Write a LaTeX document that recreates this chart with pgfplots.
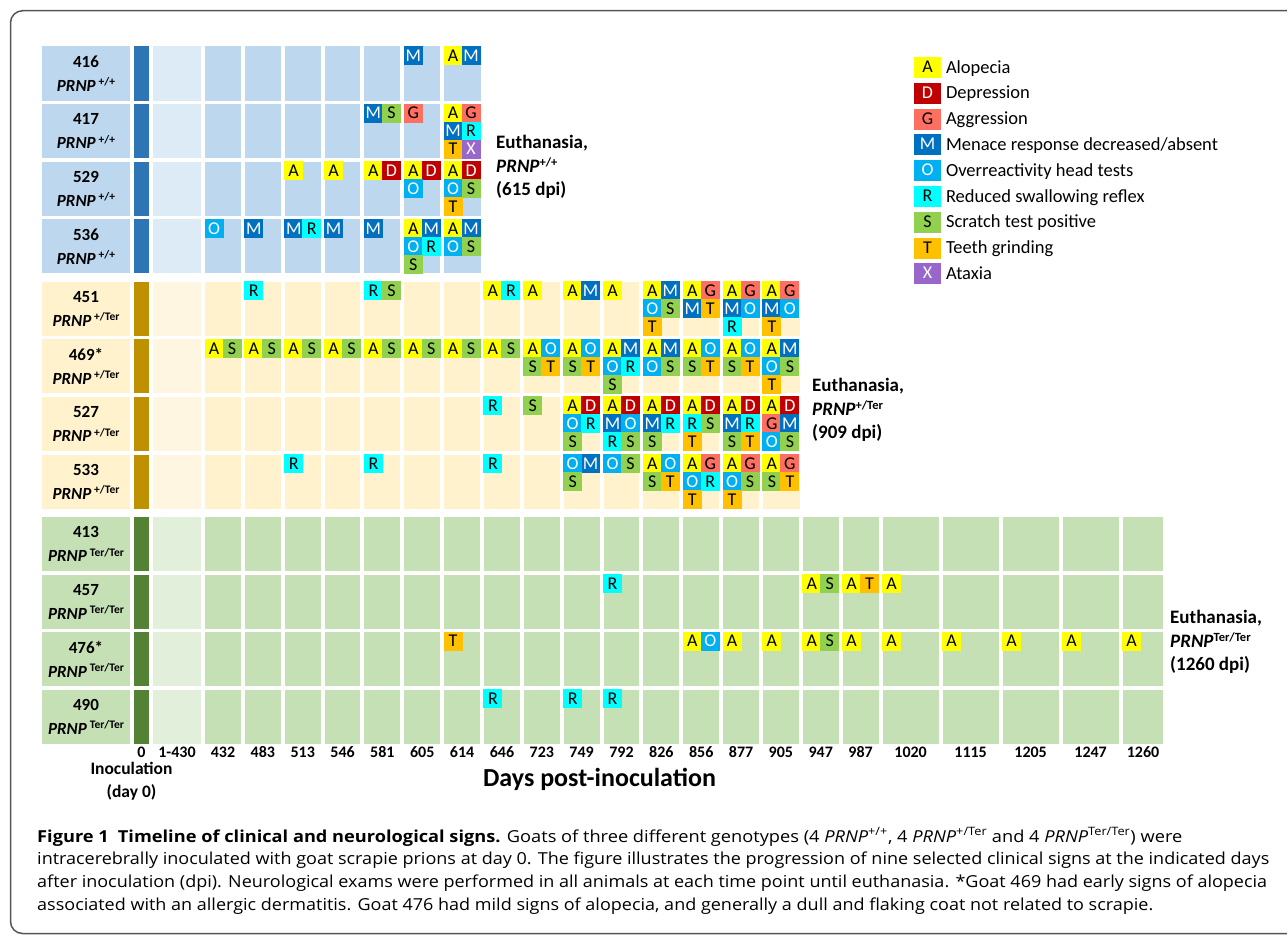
\documentclass[border=0pt]{standalone}
\usepackage{pgfplots}
\usepackage{pgfplotstable}
\usepackage{graphicx}
\pgfplotsset{compat=1.18}
\usepackage{fontspec}
\setmainfont{Carlito}
\newfontfamily\capfont{Open Sans}
\definecolor{cA}{RGB}{255,255,0}
\definecolor{cD}{RGB}{192,0,0}
\definecolor{cG}{RGB}{255,111,97}
\definecolor{cM}{RGB}{0,112,192}
\definecolor{cO}{RGB}{0,176,240}
\definecolor{cR}{RGB}{0,255,255}
\definecolor{cS}{RGB}{146,208,80}
\definecolor{cT}{RGB}{255,192,0}
\definecolor{cX}{RGB}{153,102,204}
\definecolor{gA}{RGB}{189,215,238}
\definecolor{gAl}{RGB}{221,235,247}
\definecolor{gAb}{RGB}{46,117,182}
\definecolor{gB}{RGB}{255,242,204}
\definecolor{gBl}{RGB}{255,246,226}
\definecolor{gBb}{RGB}{191,144,0}
\definecolor{gC}{RGB}{197,224,180}
\definecolor{gCl}{RGB}{226,239,218}
\definecolor{gCb}{RGB}{84,130,53}
\definecolor{framec}{RGB}{85,85,85}
\newcommand\lfont{\fontsize{18}{18}\selectfont}
\newcommand\gt[1]{\textit{PRNP}\,\raisebox{5.5pt}{\fontsize{11.5}{11.5}\selectfont #1}}
\newcommand\gte[1]{\textit{PRNP}\raisebox{6pt}{\fontsize{12.5}{12.5}\selectfont #1}}
\newcommand\capline[2]{\resizebox{#1}{\height}{#2}}
\pgfplotsset{
  sig/.style n args={3}{
    only marks, mark=square*, mark size=9pt, draw=#1, fill=#1,
    mark options={draw=#1, fill=#1, line width=0pt},
    nodes near coords={#2},
    nodes near coords align={center},
    every node near coord/.append style={anchor=center, inner sep=0pt, text=#3, font=\lfont},
    legend image code/.code={
      \node[draw=none, fill=#1, minimum width=27pt, minimum height=21pt, inner sep=0pt, text=#3, font=\lfont, anchor=west] at (0pt,0pt) {#2};
      \path[draw=none, fill=none] (0pt,0pt) -- (32pt,0pt);
    },
  },
  bg/.style={draw=none, forget plot},
  gap/.style={white, line width=#1, forget plot, unbounded coords=jump, mark=none},
}
% signs: c = time-point column index (0 = day 0, 1 = 1-430, 2 = 432, ..., 23 = 1260)
%        r = goat row index (0..11), s = sub-column, t = sub-row within the cell
\pgfplotstableread{
c r s t
8 0 0 0
8 1 0 0
4 2 0 0
5 2 0 0
6 2 0 0
7 2 0 0
8 2 0 0
7 3 0 0
8 3 0 0
9 4 0 0
10 4 0 0
11 4 0 0
12 4 0 0
13 4 0 0
14 4 0 0
15 4 0 0
16 4 0 0
2 5 0 0
3 5 0 0
4 5 0 0
5 5 0 0
6 5 0 0
7 5 0 0
8 5 0 0
9 5 0 0
10 5 0 0
11 5 0 0
12 5 0 0
13 5 0 0
14 5 0 0
15 5 0 0
16 5 0 0
11 6 0 0
12 6 0 0
13 6 0 0
14 6 0 0
15 6 0 0
16 6 0 0
13 7 0 0
14 7 0 0
15 7 0 0
16 7 0 0
17 9 0 0
18 9 0 0
19 9 0 0
14 10 0 0
15 10 0 0
16 10 0 0
17 10 0 0
18 10 0 0
19 10 0 0
20 10 0 0
21 10 0 0
22 10 0 0
23 10 0 0
}\tabA
\pgfplotstableread{
c r s t
6 2 1 0
7 2 1 0
8 2 1 0
11 6 1 0
12 6 1 0
13 6 1 0
14 6 1 0
15 6 1 0
16 6 1 0
}\tabD
\pgfplotstableread{
c r s t
7 1 0 0
8 1 1 0
14 4 1 0
15 4 1 0
16 4 1 0
16 6 0 1
14 7 1 0
15 7 1 0
16 7 1 0
}\tabG
\pgfplotstableread{
c r s t
7 0 0 0
8 0 1 0
6 1 0 0
8 1 0 1
3 3 0 0
4 3 0 0
5 3 0 0
6 3 0 0
7 3 1 0
8 3 1 0
11 4 1 0
13 4 1 0
14 4 0 1
15 4 0 1
16 4 0 1
12 5 1 0
13 5 1 0
16 5 1 0
12 6 0 1
13 6 0 1
15 6 0 1
16 6 1 1
11 7 1 0
}\tabM
\pgfplotstableread{
c r s t
7 2 0 1
8 2 0 1
2 3 0 0
7 3 0 1
8 3 0 1
13 4 0 1
15 4 1 1
16 4 1 1
10 5 1 0
11 5 1 0
12 5 0 1
13 5 0 1
14 5 1 0
15 5 1 0
16 5 0 1
11 6 0 1
12 6 1 1
16 6 0 2
11 7 0 0
12 7 0 0
13 7 1 0
14 7 0 1
15 7 0 1
14 10 1 0
}\tabO
\pgfplotstableread{
c r s t
8 1 1 1
4 3 1 0
7 3 1 1
3 4 0 0
6 4 0 0
9 4 1 0
15 4 0 2
12 5 1 1
9 6 0 0
11 6 1 1
12 6 0 2
13 6 1 1
14 6 0 1
15 6 1 1
4 7 0 0
6 7 0 0
9 7 0 0
14 7 1 1
12 9 0 0
9 11 0 0
11 11 0 0
12 11 0 0
}\tabR
\pgfplotstableread{
c r s t
6 1 1 0
8 2 1 1
7 3 0 2
8 3 1 1
6 4 1 0
13 4 1 1
2 5 1 0
3 5 1 0
4 5 1 0
5 5 1 0
6 5 1 0
7 5 1 0
8 5 1 0
9 5 1 0
10 5 0 1
11 5 0 1
12 5 0 2
13 5 1 1
14 5 0 1
15 5 0 1
16 5 1 1
10 6 0 0
11 6 0 2
12 6 1 2
13 6 0 2
14 6 1 1
15 6 0 2
16 6 1 2
11 7 0 1
12 7 1 0
13 7 0 1
15 7 1 1
16 7 0 1
17 9 1 0
17 10 1 0
}\tabS
\pgfplotstableread{
c r s t
8 1 0 2
8 2 0 2
13 4 0 2
14 4 1 1
16 4 0 2
10 5 1 1
11 5 1 1
14 5 1 1
15 5 1 1
16 5 0 2
14 6 0 2
15 6 1 2
13 7 1 1
14 7 0 2
15 7 0 2
16 7 1 1
18 9 1 0
8 10 0 0
}\tabT
\pgfplotstableread{
c r s t
8 1 1 2
}\tabX

\begin{document}
\begin{tikzpicture}
\path[use as bounding box] (0,0) rectangle (1287pt,934pt);
\begin{axis}[
  at={(0,0)}, anchor=south west,
  x=1pt, y=1pt, xmin=0, xmax=1287, ymin=0, ymax=934, y dir=reverse,
  clip=false, axis on top,
  axis line style={draw=none},
  major tick length=0pt,
  declare function={
    colL(\c)=ifthenelse(\c<1.5,153,ifthenelse(\c<18.5,205+39.85*(\c-2),882.6+60*(\c-19)));
    rowT(\r)=46.5+235.25*floor(\r/4)+57.6*(\r-4*floor(\r/4));
  },
  xtick={141.5,177,223,262.85,302.7,342.55,382.4,422.25,462.1,501.95,541.8,581.65,621.5,661.35,701.2,741.05,780.9,820.75,860.6,910.6,970.6,1030.6,1090.6,1143},
  xticklabels={0,1-430,432,483,513,546,581,605,614,646,723,749,792,826,856,877,905,947,987,1020,1115,1205,1247,1260},
  xticklabel style={font=\fontsize{16}{16}\selectfont\bfseries, anchor=center, inner sep=0pt, yshift=181.5pt},
  ytick={73.5,131.1,188.7,246.3,308.75,366.35,423.95,481.55,544,601.6,659.2,716.8},
  yticklabels={
    {416\\\gt{+/+}},{417\\\gt{+/+}},{529\\\gt{+/+}},{536\\\gt{+/+}},
    {451\\\gt{+/Ter}},{469*\\\gt{+/Ter}},{527\\\gt{+/Ter}},{533\\\gt{+/Ter}},
    {413\\\gt{Ter/Ter}},{457\\\gt{Ter/Ter}},{476*\\\gt{Ter/Ter}},{490\\\gt{Ter/Ter}}},
  yticklabel style={align=center, anchor=center, inner sep=0pt, xshift=86pt, font=\fontsize{17}{24}\selectfont\bfseries},
  xlabel={Days post-inoculation},
  every axis x label/.style={at={(axis cs:599.5,779)}, anchor=center, font=\fontsize{26}{26}\selectfont\bfseries},
  legend style={at={(axis cs:914,57)}, anchor=north west, draw=none, fill=none, inner sep=0pt, outer sep=0pt,
    row sep=4.8pt, column sep=0pt, font=\fontsize{18.5}{18.5}\selectfont, nodes={inner sep=0pt}, cells={anchor=west}},
  legend cell align=left,
]
% ---- frame
\addplot[framec, line width=1.5pt, rounded corners=12pt, forget plot, mark=none] coordinates {(1300,10.75) (10.5,10.75) (10.5,933.5) (1300,933.5)};
% ---- group backgrounds
\addplot[bg, fill=gA]  coordinates {(41.7,46.5) (481,46.5) (481,273.3) (41.7,273.3)} -- cycle;
\addplot[bg, fill=gAl] coordinates {(151,46.5) (203,46.5) (203,273.3) (151,273.3)} -- cycle;
\addplot[bg, fill=gAb] coordinates {(131.5,46.5) (151,46.5) (151,273.3) (131.5,273.3)} -- cycle;
\addplot[bg, fill=gB]  coordinates {(41.7,281.75) (800,281.75) (800,508.55) (41.7,508.55)} -- cycle;
\addplot[bg, fill=gBl] coordinates {(151,281.75) (203,281.75) (203,508.55) (151,508.55)} -- cycle;
\addplot[bg, fill=gBb] coordinates {(131.5,281.75) (151,281.75) (151,508.55) (131.5,508.55)} -- cycle;
\addplot[bg, fill=gC]  coordinates {(41.7,517) (1163,517) (1163,743.8) (41.7,743.8)} -- cycle;
\addplot[bg, fill=gCl] coordinates {(151,517) (203,517) (203,743.8) (151,743.8)} -- cycle;
\addplot[bg, fill=gCb] coordinates {(131.5,517) (151,517) (151,743.8) (131.5,743.8)} -- cycle;
% ---- white gaps between cells
\addplot[gap=4pt] coordinates {
(131.5,45) (131.5,275) (nan,nan) (151,45) (151,275) (nan,nan) (203,45) (203,275) (nan,nan)
(242.85,45) (242.85,275) (nan,nan) (282.7,45) (282.7,275) (nan,nan) (322.55,45) (322.55,275) (nan,nan)
(362.4,45) (362.4,275) (nan,nan) (402.25,45) (402.25,275) (nan,nan) (442.1,45) (442.1,275)};
\addplot[gap=4pt] coordinates {
(131.5,280) (131.5,510.5) (nan,nan) (151,280) (151,510.5) (nan,nan) (203,280) (203,510.5) (nan,nan)
(242.85,280) (242.85,510.5) (nan,nan) (282.7,280) (282.7,510.5) (nan,nan) (322.55,280) (322.55,510.5) (nan,nan)
(362.4,280) (362.4,510.5) (nan,nan) (402.25,280) (402.25,510.5) (nan,nan) (442.1,280) (442.1,510.5) (nan,nan)
(481.95,280) (481.95,510.5) (nan,nan) (521.8,280) (521.8,510.5) (nan,nan) (561.65,280) (561.65,510.5) (nan,nan)
(601.5,280) (601.5,510.5) (nan,nan) (641.35,280) (641.35,510.5) (nan,nan) (681.2,280) (681.2,510.5) (nan,nan)
(721.05,280) (721.05,510.5) (nan,nan) (760.9,280) (760.9,510.5)};
\addplot[gap=4pt] coordinates {
(131.5,515.5) (131.5,745.5) (nan,nan) (151,515.5) (151,745.5) (nan,nan) (203,515.5) (203,745.5) (nan,nan)
(242.85,515.5) (242.85,745.5) (nan,nan) (282.7,515.5) (282.7,745.5) (nan,nan) (322.55,515.5) (322.55,745.5) (nan,nan)
(362.4,515.5) (362.4,745.5) (nan,nan) (402.25,515.5) (402.25,745.5) (nan,nan) (442.1,515.5) (442.1,745.5) (nan,nan)
(481.95,515.5) (481.95,745.5) (nan,nan) (521.8,515.5) (521.8,745.5) (nan,nan) (561.65,515.5) (561.65,745.5) (nan,nan)
(601.5,515.5) (601.5,745.5) (nan,nan) (641.35,515.5) (641.35,745.5) (nan,nan) (681.2,515.5) (681.2,745.5) (nan,nan)
(721.05,515.5) (721.05,745.5) (nan,nan) (760.9,515.5) (760.9,745.5) (nan,nan) (800.75,515.5) (800.75,745.5) (nan,nan)
(840.6,515.5) (840.6,745.5) (nan,nan) (880.6,515.5) (880.6,745.5) (nan,nan) (940.6,515.5) (940.6,745.5) (nan,nan)
(1000.6,515.5) (1000.6,745.5) (nan,nan) (1060.6,515.5) (1060.6,745.5) (nan,nan) (1120.6,515.5) (1120.6,745.5)};
\addplot[gap=3.6pt] coordinates {
(40,102.3) (483,102.3) (nan,nan) (40,159.9) (483,159.9) (nan,nan) (40,217.5) (483,217.5) (nan,nan)
(40,337.55) (802,337.55) (nan,nan) (40,395.15) (802,395.15) (nan,nan) (40,452.75) (802,452.75) (nan,nan)
(40,572.8) (1165,572.8) (nan,nan) (40,630.4) (1165,630.4) (nan,nan) (40,688) (1165,688)};
% ---- clinical signs
\addplot[sig={cA}{A}{black}] table[x expr={colL(\thisrow{c})+9+18*\thisrow{s}}, y expr={rowT(\thisrow{r})+9+18*\thisrow{t}}] {\tabA};
\addplot[sig={cD}{D}{white}] table[x expr={colL(\thisrow{c})+9+18*\thisrow{s}}, y expr={rowT(\thisrow{r})+9+18*\thisrow{t}}] {\tabD};
\addplot[sig={cG}{G}{black}] table[x expr={colL(\thisrow{c})+9+18*\thisrow{s}}, y expr={rowT(\thisrow{r})+9+18*\thisrow{t}}] {\tabG};
\addplot[sig={cM}{M}{white}] table[x expr={colL(\thisrow{c})+9+18*\thisrow{s}}, y expr={rowT(\thisrow{r})+9+18*\thisrow{t}}] {\tabM};
\addplot[sig={cO}{O}{white}] table[x expr={colL(\thisrow{c})+9+18*\thisrow{s}}, y expr={rowT(\thisrow{r})+9+18*\thisrow{t}}] {\tabO};
\addplot[sig={cR}{R}{black}] table[x expr={colL(\thisrow{c})+9+18*\thisrow{s}}, y expr={rowT(\thisrow{r})+9+18*\thisrow{t}}] {\tabR};
\addplot[sig={cS}{S}{black}] table[x expr={colL(\thisrow{c})+9+18*\thisrow{s}}, y expr={rowT(\thisrow{r})+9+18*\thisrow{t}}] {\tabS};
\addplot[sig={cT}{T}{black}] table[x expr={colL(\thisrow{c})+9+18*\thisrow{s}}, y expr={rowT(\thisrow{r})+9+18*\thisrow{t}}] {\tabT};
\addplot[sig={cX}{X}{white}] table[x expr={colL(\thisrow{c})+9+18*\thisrow{s}}, y expr={rowT(\thisrow{r})+9+18*\thisrow{t}}] {\tabX};
\legend{Alopecia,Depression,Aggression,Menace response decreased/absent,Overreactivity head tests,Reduced swallowing reflex,Scratch test positive,Teeth grinding,Ataxia}
% ---- annotations
\node[anchor=west, align=left, inner sep=0pt, font=\fontsize{19}{23.5}\selectfont\bfseries] at (axis cs:496,167) {Euthanasia,\\\gte{+/+}\\(615 dpi)};
\node[anchor=west, align=left, inner sep=0pt, font=\fontsize{19}{23.5}\selectfont\bfseries] at (axis cs:812,410) {Euthanasia,\\\gte{+/Ter}\\(909 dpi)};
\node[anchor=west, align=left, inner sep=0pt, font=\fontsize{19}{23.5}\selectfont\bfseries] at (axis cs:1170,642) {Euthanasia,\\\gte{Ter/Ter}\\(1260 dpi)};
\node[align=center, inner sep=0pt, font=\fontsize{17.5}{23}\selectfont\bfseries] at (axis cs:131.5,781.5) {Inoculation\\(day 0)};
\node[anchor=north west, align=left, inner sep=0pt, font=\capfont\fontsize{16.5}{22.7}\selectfont] at (axis cs:37,827.5) {%
\capline{1145pt}{\textbf{Figure 1\hspace{0.5em}Timeline of clinical and neurological signs.} Goats of three different genotypes (4 \textit{PRNP}\textsuperscript{+/+}, 4 \textit{PRNP}\textsuperscript{+/Ter} and 4 \textit{PRNP}\textsuperscript{Ter/Ter}) were}\\
\capline{1232pt}{intracerebrally inoculated with goat scrapie prions at day 0. The figure illustrates the progression of nine selected clinical signs at the indicated days}\\
\capline{1230pt}{after inoculation (dpi). Neurological exams were performed in all animals at each time point until euthanasia. *Goat 469 had early signs of alopecia}\\
\capline{1116pt}{associated with an allergic dermatitis. Goat 476 had mild signs of alopecia, and generally a dull and flaking coat not related to scrapie.}};
\end{axis}
\end{tikzpicture}
\end{document}
